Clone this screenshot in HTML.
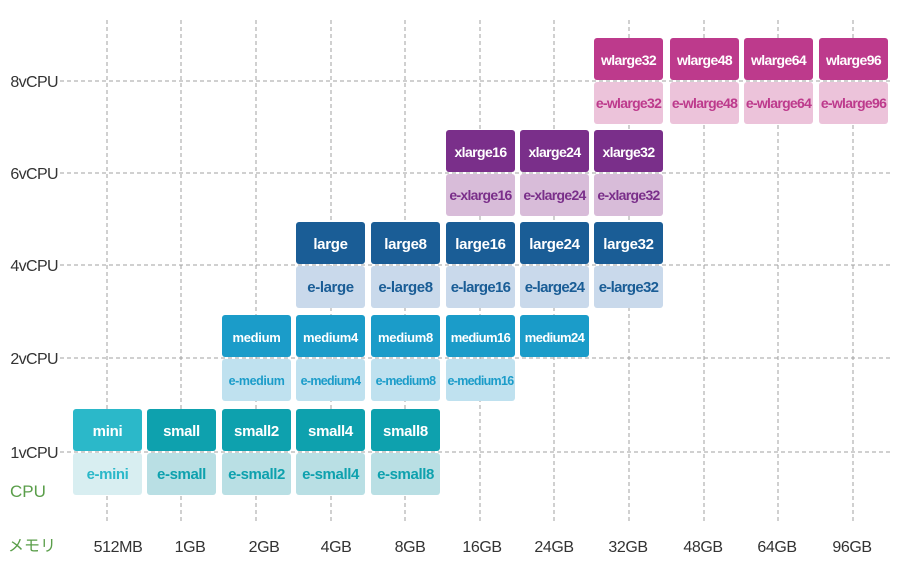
<!DOCTYPE html>
<html><head><meta charset="utf-8"><style>
body{margin:0;background:#fff;width:900px;height:570px;overflow:hidden;font-family:"Liberation Sans","Noto Sans CJK JP",sans-serif}
</style></head><body>
<svg width="900" height="570" xmlns="http://www.w3.org/2000/svg" font-family="Liberation Sans, Noto Sans CJK JP, sans-serif">
<g stroke="#a0a0a0" stroke-dasharray="4,3" stroke-width="1">
<line x1="60" y1="81" x2="892" y2="81"/><line x1="60" y1="173" x2="892" y2="173"/>
<line x1="60" y1="265" x2="892" y2="265"/><line x1="60" y1="358" x2="892" y2="358"/>
<line x1="60" y1="452" x2="892" y2="452"/>
<line x1="107" y1="20" x2="107" y2="522"/><line x1="181" y1="20" x2="181" y2="522"/>
<line x1="256" y1="20" x2="256" y2="522"/><line x1="331" y1="20" x2="331" y2="522"/>
<line x1="405" y1="20" x2="405" y2="522"/><line x1="480" y1="20" x2="480" y2="522"/>
<line x1="554" y1="20" x2="554" y2="522"/><line x1="629" y1="20" x2="629" y2="522"/>
<line x1="704" y1="20" x2="704" y2="522"/><line x1="778" y1="20" x2="778" y2="522"/>
<line x1="853" y1="20" x2="853" y2="522"/>
</g>
<g font-size="16" fill="#333" text-anchor="end" letter-spacing="-0.6">
<text x="58" y="87">8vCPU</text><text x="58" y="179">6vCPU</text><text x="58" y="271">4vCPU</text>
<text x="58" y="364">2vCPU</text><text x="58" y="458">1vCPU</text>
</g>
<text x="10" y="497" font-size="17" fill="#5a9e4a">CPU</text>
<text x="8" y="551" font-size="16" fill="#5a9e4a">メモリ</text>
<g font-size="16" fill="#333" text-anchor="middle" letter-spacing="-0.4">
<text x="118" y="552">512MB</text><text x="190" y="552">1GB</text><text x="264" y="552">2GB</text>
<text x="336" y="552">4GB</text><text x="410" y="552">8GB</text><text x="482" y="552">16GB</text>
<text x="554" y="552">24GB</text><text x="628" y="552">32GB</text><text x="703" y="552">48GB</text>
<text x="777" y="552">64GB</text><text x="852" y="552">96GB</text>
</g>
<g id="boxes" font-weight="bold" text-anchor="middle"></g>
</svg>
<script>
var cols=[73,147,222,296,371,446,520,594,670,744,819];
var rows={8:81,6:173,4:265,2:358,1:452};
var C={mini:['#2bb8c9','#d8eef1'],small:['#0ea1ae','#b9dfe4'],medium:['#1b9cc9','#bfe1ef'],large:['#1a5d96','#c9d9eb'],xlarge:['#7a2f8a','#d8bcd9'],wlarge:['#bd3a8c','#ecc3da']};
var items=[
[1,0,'mini','mini',15],[1,1,'small','small',15],[1,2,'small2','small',15],[1,3,'small4','small',15],[1,4,'small8','small',15],
[2,2,'medium','medium',13],[2,3,'medium4','medium',13],[2,4,'medium8','medium',13],[2,5,'medium16','medium',13],[2,6,'medium24','medium',13],
[4,3,'large','large',15],[4,4,'large8','large',15],[4,5,'large16','large',15],[4,6,'large24','large',15],[4,7,'large32','large',15],
[6,5,'xlarge16','xlarge',14],[6,6,'xlarge24','xlarge',14],[6,7,'xlarge32','xlarge',14],
[8,7,'wlarge32','wlarge',14],[8,8,'wlarge48','wlarge',14],[8,9,'wlarge64','wlarge',14],[8,10,'wlarge96','wlarge',14]];
var noE={'medium24':1};
var h='';
items.forEach(function(it){
 var y=rows[it[0]],x=cols[it[1]],c=C[it[3]],fs=it[4];
 var ls=it[2].length>=8?-0.6:-0.3;
 h+='<rect x="'+x+'" y="'+(y-43)+'" width="69" height="42" rx="3" fill="'+c[0]+'"/>';
 h+='<text x="'+(x+34.5)+'" y="'+(y-16)+'" font-size="'+fs+'" fill="#fff" letter-spacing="'+ls+'">'+it[2]+'</text>';
 if(!noE[it[2]]){
 var efs=fs-(it[3]=='medium'?0.5:0);
 var els=it[2].length>=7?-0.7:-0.4;
 h+='<rect x="'+x+'" y="'+(y+1)+'" width="69" height="42" rx="3" fill="'+c[1]+'"/>';
 h+='<text x="'+(x+34.5)+'" y="'+(y+27)+'" font-size="'+efs+'" fill="'+c[0]+'" letter-spacing="'+els+'">e-'+it[2]+'</text>';}
});
document.getElementById('boxes').innerHTML=h;
</script>
</body></html>
